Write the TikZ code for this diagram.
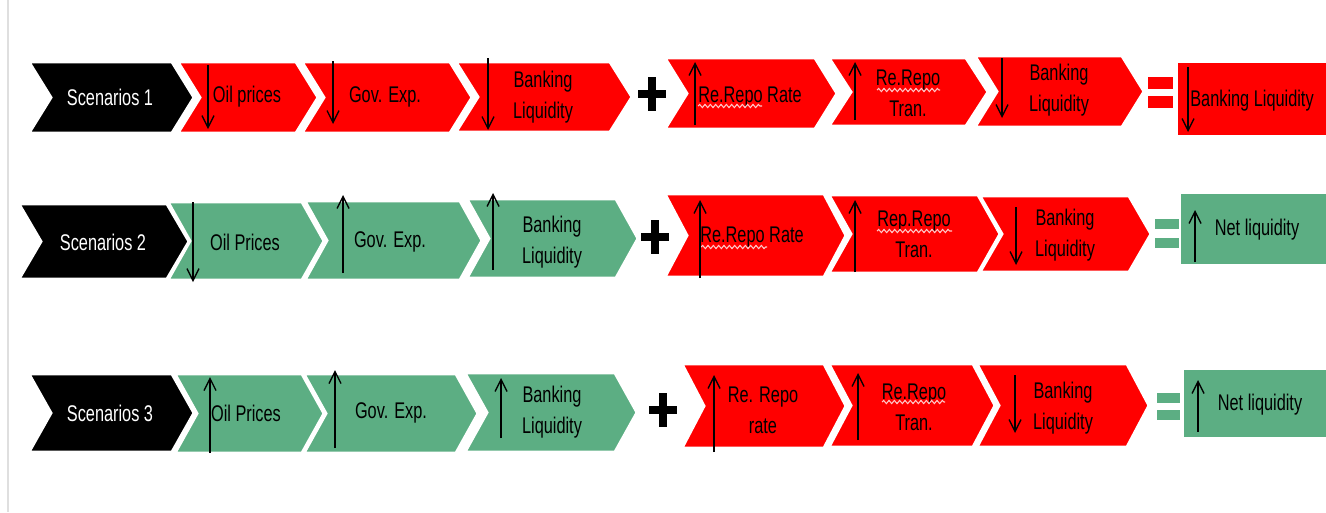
\documentclass[tikz,border=0pt]{standalone}
\usepackage{fontspec}
\setmainfont{Liberation Sans}[FakeStretch=0.72]
\usetikzlibrary{arrows.meta,decorations.pathmorphing}
\definecolor{cred}{RGB}{255,0,0}
\definecolor{cgreen}{RGB}{92,174,131}
\definecolor{squig}{RGB}{255,200,200}
\newcommand\chev[5]{%
  \path[#1] (#2,#3) -- (#4-22,#3) -- (#4,{(#3+#5)/2}) -- (#4-22,#5) -- (#2,#5) -- (#2+22,{(#3+#5)/2}) -- cycle;}
\newcommand\plusmark[2]{%
  \fill[black] (#1-14,#2-4) rectangle (#1+14,#2+4);
  \fill[black] (#1-4,#2-17) rectangle (#1+4,#2+17);}
\newcommand\eqmark[6]{%
  \fill[#1] (#2,#4) rectangle (#3,#5);
  \fill[#1] (#2,#6) rectangle (#3,{#6+(#5-#4)});}
\tikzset{
  redch/.style={fill=cred,draw=white,line width=2.2},
  greench/.style={fill=cgreen,draw=white,line width=2.2},
  blackch/.style={fill=black,draw=white,line width=2.2},
  lbl/.style={font=\fontsize{17}{23}\selectfont,align=center,inner sep=0pt,text=black},
  wlbl/.style={lbl,text=white},
  arr/.style={line width=1,-{Straight Barb[length=9,width=9,line width=1]}},
  wave/.style={draw=squig,line width=0.8,decorate,decoration={snake,amplitude=1.2,segment length=4}}
}
\begin{document}
\begin{tikzpicture}[x=0.75pt,y=-0.75pt]
\useasboundingbox[fill=white] (0,0) rectangle (1326,512);
\draw[gray!25,line width=1.5] (8,0) -- (8,512);

% ---------- Row 1 ----------
\chev{blackch}{29}{62}{194}{133}
\chev{redch}{178}{62}{318}{133}
\chev{redch}{302}{62}{472}{133}
\chev{redch}{456}{62}{632}{132}
\node[wlbl] (s1) at (110,97) {Scenarios 1};
\node[lbl] (r1a) at (247,97) {Oil prices};
\node[lbl] (r1b) at (385,97) {Gov. Exp.};
\node[lbl] (r1c) at (543,97) {Banking\\Liquidity};
\draw[arr] (208,65) -- (208,129);
\draw[arr] (333,61) -- (333,124);
\draw[arr] (488,58) -- (488,130);
\plusmark{652}{94}
\chev{redch}{665}{58}{837}{129}
\chev{redch}{829}{58}{988}{126}
\chev{redch}{975}{56}{1144}{127}
\node[lbl] (r1d) at (750,97) {Re.Repo Rate};
\node[lbl] (r1e) at (908,93) {Re.Repo\\Tran.};
\node[lbl] (r1f) at (1059,90) {Banking\\Liquidity};
\draw[wave] (698,106) -- (762,106);
\draw[wave] (877,90) -- (940,90);
\draw[arr] (695,125) -- (695,62);
\draw[arr] (855,120) -- (855,62);
\draw[arr] (1002,58) -- (1002,118);
\eqmark{cred}{1148}{1173}{77}{89}{96}
\fill[cred] (1178,63) rectangle (1330,135);
\node[lbl] (r1g) at (1252,101) {Banking Liquidity};
\draw[arr] (1188,67) -- (1188,132);

% ---------- Row 2 ----------
\chev{blackch}{19}{204}{189}{279}
\chev{greench}{168}{202}{324}{280}
\chev{greench}{305}{201}{482}{280}
\chev{greench}{467}{199}{638}{278}
\node[wlbl] (s2) at (103,242) {Scenarios 2};
\node[lbl] (g2a) at (245,242) {Oil Prices};
\node[lbl] (g2b) at (390,242) {Gov. Exp.};
\node[lbl] (g2c) at (552,242) {Banking\\Liquidity};
\draw[arr] (193,202) -- (193,282);
\draw[arr] (343,273) -- (343,195);
\draw[arr] (493,270) -- (493,193);
\plusmark{655}{237}
\chev{redch}{665}{194}{846}{277}
\chev{redch}{829}{195}{1000}{273}
\chev{redch}{980}{196}{1151}{272}
\node[lbl] (r2a) at (752,237) {Re.Repo Rate};
\node[lbl] (r2b) at (914,234) {Rep.Repo\\Tran.};
\node[lbl] (r2c) at (1065,235) {Banking\\Liquidity};
\draw[wave] (701,247) -- (767,247);
\draw[wave] (877,231) -- (952,231);
\draw[arr] (700,278) -- (700,200);
\draw[arr] (855,272) -- (855,200);
\draw[arr] (1016,207) -- (1016,265);
\eqmark{cgreen}{1155}{1179}{219}{229}{238}
\fill[cgreen] (1181,194) rectangle (1330,264);
\node[lbl] (g2d) at (1257,230) {Net liquidity};
\draw[arr] (1195,262) -- (1195,210);

% ---------- Row 3 ----------
\chev{blackch}{29}{374}{194}{452}
\chev{greench}{175}{374}{324}{453}
\chev{greench}{304}{374}{478}{453}
\chev{greench}{465}{373}{637}{452}
\node[wlbl] (s3) at (110,413) {Scenarios 3};
\node[lbl] (g3a) at (246,413) {Oil Prices};
\node[lbl] (g3b) at (391,413) {Gov. Exp.};
\node[lbl] (g3c) at (552,412) {Banking\\Liquidity};
\draw[arr] (210,453) -- (210,377);
\draw[arr] (335,448) -- (335,370);
\draw[arr] (501,438) -- (501,378);
\plusmark{663}{410}
\chev{redch}{682}{364}{846}{448}
\chev{redch}{829}{364}{995}{447}
\chev{redch}{977}{364}{1149}{447}
\node[lbl] (r3a) at (763,410) {Re. Repo\\rate};
\node[lbl] (r3b) at (914,407) {Re.Repo\\Tran.};
\node[lbl] (r3c) at (1063,408) {Banking\\Liquidity};
\draw[wave] (882,402) -- (945,402);
\draw[arr] (714,452) -- (714,375);
\draw[arr] (858,440) -- (858,373);
\draw[arr] (1015,375) -- (1015,433);
\eqmark{cgreen}{1157}{1180}{393}{403}{410}
\fill[cgreen] (1184,370) rectangle (1330,437);
\node[lbl] (g3d) at (1260,405) {Net liquidity};
\draw[arr] (1198,432) -- (1198,380);
\end{tikzpicture}
\end{document}
